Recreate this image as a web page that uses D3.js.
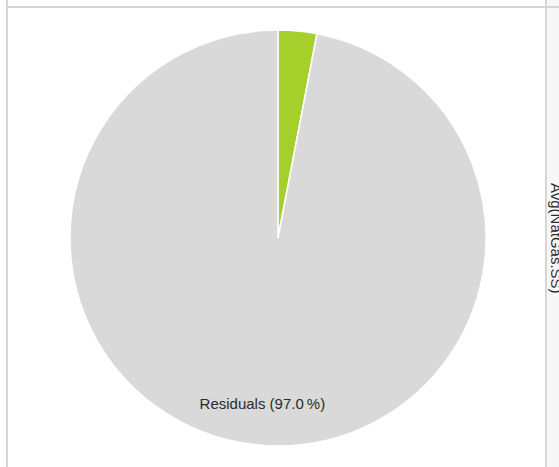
<!DOCTYPE html>
<html>
<head>
<meta charset="utf-8">
<script src="https://cdn.jsdelivr.net/npm/d3@7"></script>
<style>
  body { margin: 0; background: #fff; overflow: hidden; }
  svg { display: block; }
</style>
</head>
<body>
<div id="chart"></div>
<script>
// slices, clockwise from 12 o'clock
var categories = ["Other", "Residuals"];
var values = [3.0, 97.0];
var colors = ["#a5cf2b", "#d9d9d9"];
var axisTitle = "Avg(NatGas.SS)";

var width = 559, height = 467;
var cx = 278, cy = 238, radius = 208;

var svg = d3.select("#chart")
  .append("svg")
    .attr("width", width)
    .attr("height", height);

// right side panel
svg.append("rect")
  .attr("x", 547).attr("y", 0)
  .attr("width", width - 547).attr("height", height)
  .attr("fill", "#f7f7f7");

// frame lines
svg.append("line")
  .attr("x1", 7).attr("x2", 7).attr("y1", 0).attr("y2", height)
  .attr("stroke", "#d6d6d6").attr("stroke-width", 2);
svg.append("line")
  .attr("x1", 7).attr("x2", width).attr("y1", 7).attr("y2", 7)
  .attr("stroke", "#d6d6d6").attr("stroke-width", 2);
svg.append("line")
  .attr("x1", 546).attr("x2", 546).attr("y1", 0).attr("y2", height)
  .attr("stroke", "#d6d6d6").attr("stroke-width", 2);

var data = categories.map(function(c, i) {
  return {name: c, value: values[i], color: colors[i]};
});

var pie = d3.pie()
  .sort(null)
  .value(function(d) { return d.value; });

var arc = d3.arc()
  .innerRadius(0)
  .outerRadius(radius);

var g = svg.append("g")
  .attr("transform", "translate(" + cx + "," + cy + ")");

var arcs = pie(data);

g.selectAll("path")
  .data(arcs)
  .enter()
  .append("path")
    .attr("d", arc)
    .attr("fill", function(d) { return d.data.color; })
    .attr("stroke", "#fff")
    .attr("stroke-width", 1.5);

// label for the big slice
var labelArc = d3.arc().innerRadius(radius * 0.8).outerRadius(radius * 0.8);
g.selectAll("text.lbl")
  .data(arcs.filter(function(d) { return d.data.name === "Residuals"; }))
  .enter()
  .append("text")
    .attr("class", "lbl")
    .attr("x", function(d) { return labelArc.centroid(d)[0]; })
    .attr("y", function(d) { return labelArc.centroid(d)[1]; })
    .attr("text-anchor", "middle")
    .attr("dy", "0.35em")
    .style("font-family", "Arial, 'Liberation Sans', sans-serif")
    .style("font-size", "15px")
    .attr("fill", "#2b2b2b")
    .text(function(d) { return d.data.name + " (" + d.data.value.toFixed(1) + "\u2009%)"; });

// right axis title, rotated (clipped by the window edge)
svg.append("text")
  .attr("transform", "translate(551,183) rotate(90)")
  .style("font-family", "Arial, 'Liberation Sans', sans-serif")
  .style("font-size", "15px")
  .attr("fill", "#2b2b2b")
  .text(axisTitle);
</script>
</body>
</html>
